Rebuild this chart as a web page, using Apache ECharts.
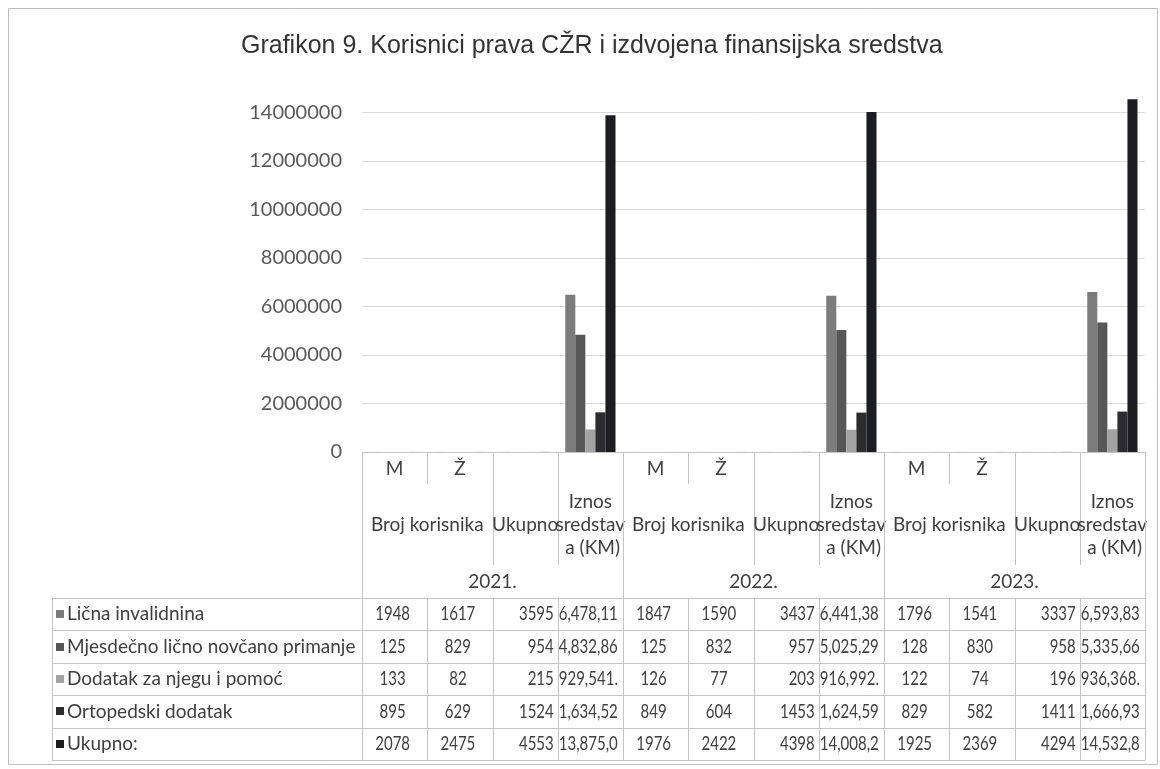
<!DOCTYPE html>
<html lang="bs">
<head>
    <meta charset="utf-8">
    <title>Grafikon 9</title>
    <script src="https://cdn.jsdelivr.net/npm/echarts@6/dist/echarts.min.js"></script>
    <style>
        html, body { margin: 0; padding: 0; background: #ffffff; }
        #main { width: 1160px; height: 769px; }
    </style>
</head>
<body>
<div id="main"></div>
<script type="text/javascript">
    // ---- data ----
    var years = ['2021.', '2022.', '2023.'];
    var colHeads = ['M', 'Ž', 'Ukupno', 'Iznos'];
    var categories = [];
    years.forEach(function (y) {
        colHeads.forEach(function (c) { categories.push(y + ' ' + c); });
    });

    var seriesNames = ['Lična invalidnina', 'Mjesdečno lično novčano primanje', 'Dodatak za njegu i pomoć', 'Ortopedski dodatak', 'Ukupno:'];

    // M, Ž, Ukupno, Iznos sredstava (KM)  x  2021, 2022, 2023
    var licnaInvalidnina   = [1948, 1617, 3595, 6478115,  1847, 1590, 3437, 6441385,  1796, 1541, 3337, 6593835];
    var mjesecnoPrimanje   = [125,  829,  954,  4832865,  125,  832,  957,  5025295,  128,  830,  958,  5335665];
    var dodatakNjega       = [133,  82,   215,  929541,   126,  77,   203,  916992,   122,  74,   196,  936368];
    var ortopedskiDodatak  = [895,  629,  1524, 1634525,  849,  604,  1453, 1624595,  829,  582,  1411, 1666935];
    var ukupno             = [2078, 2475, 4553, 13875046, 1976, 2422, 4398, 14008267, 1925, 2369, 4294, 14532803];
    var seriesData = [licnaInvalidnina, mjesecnoPrimanje, dodatakNjega, ortopedskiDodatak, ukupno];

    var yMin = 0, yMax = 15000000, yStep = 2000000;

    // ---- styles ----
    var barColors = ['#7c7c7c', '#575757', '#a3a3a3', '#2b2b30', '#1c1c24'];
    var textColor = '#404040';
    var lineColor = '#c4c4c4';
    var headFont = '19px Lato';
    var labelFont = '19px Lato';
    var numFont = '19px Lato';
    var numScale = 0.79;   // digits in the original are narrower than Lato's

    var myChart = echarts.init(document.getElementById('main'));

    var series = seriesNames.map(function (name, i) {
        return {
            name: name,
            type: 'bar',
            data: seriesData[i],
            barGap: '0%',
            barCategoryGap: '23%',
            itemStyle: { color: barColors[i] },
            emphasis: { disabled: true }
        };
    });

    myChart.setOption({
        backgroundColor: '#ffffff',
        animation: false,
        title: {
            text: 'Grafikon 9. Korisnici prava CŽR i izdvojena finansijska sredstva',
            left: 236,
            top: 29,
            textStyle: { fontFamily: 'Liberation Sans', fontSize: 25, fontWeight: 'normal', color: '#333333' }
        },
        grid: { left: 362, right: 15, top: 88, bottom: 317, containLabel: false },
        xAxis: {
            type: 'category',
            data: categories,
            axisLine: { show: true, lineStyle: { color: lineColor, width: 1 } },
            axisTick: { show: false },
            axisLabel: { show: false },
            splitLine: { show: false }
        },
        yAxis: {
            type: 'value',
            min: yMin,
            max: yMax,
            interval: yStep,
            axisLine: { show: false },
            axisTick: { show: false },
            axisLabel: {
                fontFamily: 'Lato', fontSize: 20, color: '#595959', margin: 20,
                showMaxLabel: false,
                formatter: function (v) { return v > 14000000 ? '' : String(v); }
            },
            splitLine: { show: true, showMaxLine: false, lineStyle: { color: '#d9d9d9', width: 1 } }
        },
        series: series
    });

    // ---- data table under the axis (Excel style) ----
    function colCenter(i) { return myChart.convertToPixel({ xAxisIndex: 0 }, categories[i]); }
    var bandW = colCenter(1) - colCenter(0);
    function colLeft(i) { return colCenter(0) - bandW / 2 + i * bandW; }

    var headTop = myChart.convertToPixel({ yAxisIndex: 0 }, 0);
    var tableLeft = 52;
    var tableRight = colLeft(12);
    var rowTop = headTop + 146;
    var rowH = 32.4;

    var g = [];
    function hline(x1, x2, y) {
        g.push({ type: 'line', silent: true, shape: { x1: x1, y1: Math.round(y) + 0.5, x2: x2, y2: Math.round(y) + 0.5 },
                 style: { stroke: lineColor, lineWidth: 1 } });
    }
    function vline(x, y1, y2) {
        g.push({ type: 'line', silent: true, shape: { x1: Math.round(x) + 0.5, y1: y1, x2: Math.round(x) + 0.5, y2: y2 },
                 style: { stroke: lineColor, lineWidth: 1 } });
    }
    function text(str, x, y, align, font, extra, sx) {
        var st = { text: str, x: 0, y: 0, align: align, verticalAlign: 'middle', font: font, fill: textColor };
        if (extra) { for (var k in extra) st[k] = extra[k]; }
        g.push({ type: 'text', silent: true, x: x, y: y, scaleX: sx || 1, style: st });
    }

    // header
    years.forEach(function (yr, gi) {
        var c = gi * 4;
        vline(colLeft(c), headTop, rowTop);
        vline(colLeft(c + 1), headTop, headTop + 32);
        vline(colLeft(c + 2), headTop, headTop + 113);
        vline(colLeft(c + 3), headTop, headTop + 113);
        text('M', colCenter(c), headTop + 17, 'center', headFont);
        text('Ž', colCenter(c + 1), headTop + 17, 'center', headFont);
        text('Broj korisnika', colLeft(c + 1), headTop + 73, 'center', headFont);
        text('Ukupno', colCenter(c + 2), headTop + 73, 'center', headFont);
        text('Iznos', colCenter(c + 3), headTop + 50, 'center', headFont);
        text('sredstav', colCenter(c + 3), headTop + 73, 'center', headFont);
        text('a (KM)', colLeft(c + 4) - 3, headTop + 96, 'right', headFont);
        text(yr, colLeft(c + 2), headTop + 130, 'center', headFont);
    });
    vline(tableRight, headTop, rowTop);

    // body
    for (var r = 0; r <= seriesNames.length; r++) hline(tableLeft, tableRight, rowTop + r * rowH);
    var tableBottom = rowTop + seriesNames.length * rowH;
    vline(tableLeft, rowTop, tableBottom);
    for (var c = 0; c <= categories.length; c++) vline(colLeft(c), rowTop, tableBottom);

    seriesNames.forEach(function (name, r) {
        var cy = rowTop + r * rowH + rowH / 2;
        g.push({ type: 'rect', silent: true, shape: { x: 56, y: Math.round(cy) - 4, width: 8, height: 8 },
                 style: { fill: barColors[r] } });
        text(name, 67, cy, 'left', labelFont);
        seriesData[r].forEach(function (v, i) {
            var k = i % 4;
            if (k === 3) {
                var s = v.toLocaleString('en-US', { minimumFractionDigits: 2, maximumFractionDigits: 2 });
                text(s, colLeft(i) + 1, cy, 'left', numFont,
                     { width: (bandW - 1) / numScale, overflow: 'truncate', ellipsis: '' }, numScale);
            } else if (k === 2) {
                text(String(v), colLeft(i + 1) - 4, cy, 'right', numFont, null, numScale);
            } else {
                text(String(v), colCenter(i) - 2, cy, 'center', numFont, null, numScale);
            }
        });
    });

    // chart border
    g.push({ type: 'rect', silent: true, shape: { x: 8.5, y: 8.5, width: 1149, height: 756 },
             style: { fill: 'none', stroke: '#bdbdbd', lineWidth: 1 } });

    myChart.setOption({ graphic: { elements: g } });
</script>
</body>
</html>
